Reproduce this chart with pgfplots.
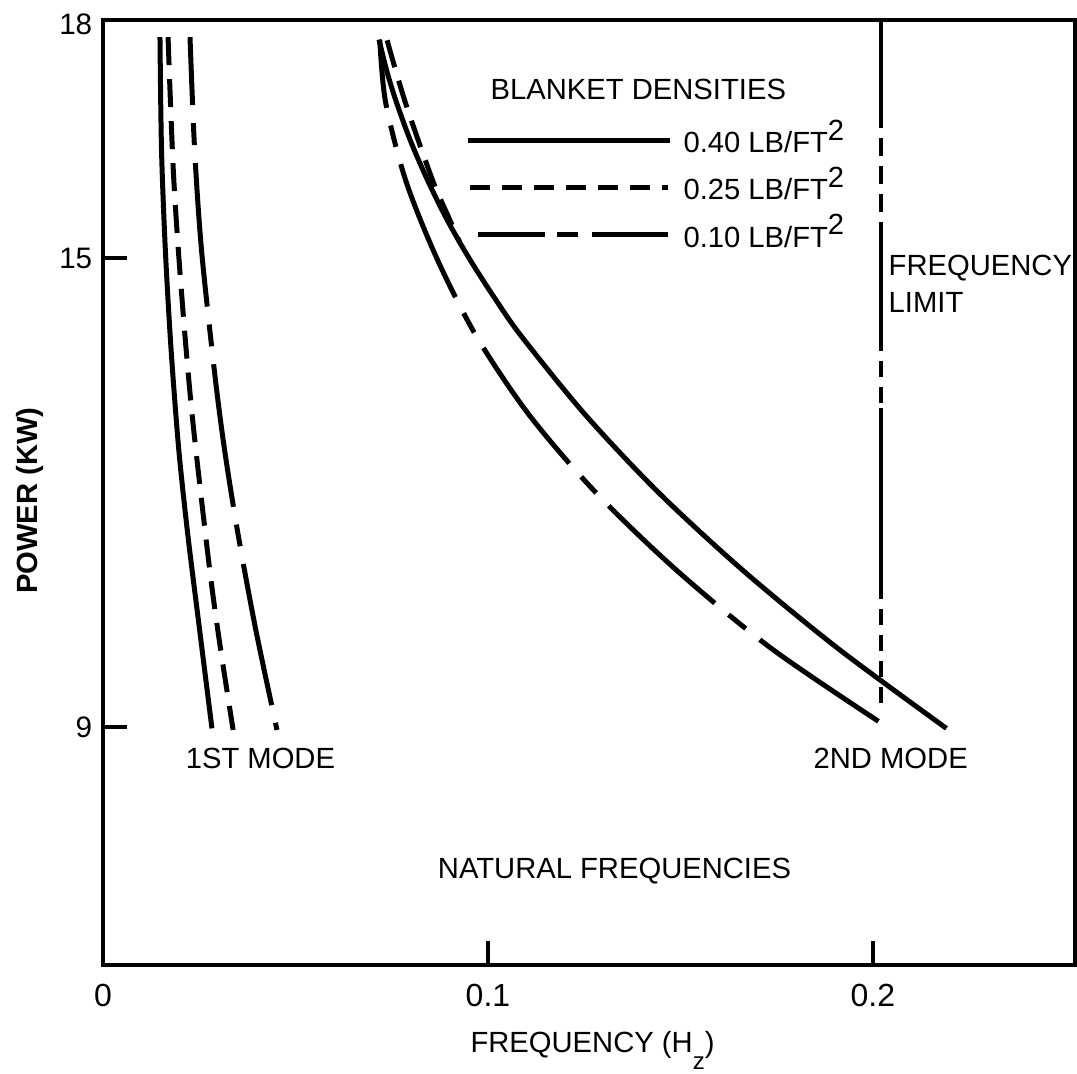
\documentclass[border=0pt]{standalone}
\usepackage{fontspec}
\setmainfont{Liberation Sans}
\usepackage{pgfplots}
\pgfplotsset{compat=1.18}

% dash styles of the three blanket densities
\tikzset{
  d40/.style={line width=1.25pt},
  d25/.style={line width=1.25pt, dash pattern=on 7pt off 3.5pt},
  d10/.style={line width=1.25pt, dash pattern=on 36pt off 4.5pt on 5.5pt off 4.5pt, dash phase=19pt},
}

\begin{document}
\begin{tikzpicture}
\begin{axis}[
  scale only axis,
  width=243pt, height=236.25pt,
  xmin=0, xmax=0.2525,
  ymin=5.95, ymax=18.05,
  font=\fontsize{7.3}{8.8}\selectfont,
  axis line style={line width=1pt},
  tick style={line width=1pt, black},
  tick align=inside,
  tick pos=left,
  major tick length=6pt,
  xtick={0,0.1,0.2}, xticklabels={0,0.1,0.2},
  ytick={9,15}, yticklabels={9,15},
  extra y ticks={18}, extra y tick labels={18},
  extra y tick style={major tick length=0pt},
  xticklabel style={font=\fontsize{8}{9.6}\selectfont, inner sep=0pt, anchor=north, yshift=-4.5pt},
  yticklabel style={font=\fontsize{7.4}{9}\selectfont, inner sep=0pt, anchor=east, xshift=-2.5pt},
  xlabel={FREQUENCY (H\raisebox{-1.1ex}{\fontsize{6}{7}\selectfont z})},
  xlabel style={at={(axis description cs:0.5036,-0.0921)}, anchor=base},
  ylabel={\bfseries POWER (KW)},
  ylabel style={at={(axis description cs:-0.0751,0.4915)}, anchor=center},
]

% 1st mode
\addplot[d40, smooth] coordinates {
  (0.0148,17.83) (0.0152,16.39) (0.0162,15.10) (0.0177,13.82)
  (0.0197,12.54) (0.0221,11.43) (0.0251,10.24) (0.0283,8.98)};
\addplot[d25, smooth] coordinates {
  (0.0169,17.83) (0.0183,16.09) (0.0203,14.62) (0.0231,13.02)
  (0.0275,11.10) (0.0302,10.11) (0.0338,8.96)};
\addplot[d10, smooth] coordinates {
  (0.0226,17.83) (0.0238,16.39) (0.0256,15.10) (0.0290,13.53)
  (0.0316,12.54) (0.0351,11.46) (0.0397,10.24) (0.0452,8.96)};

% 2nd mode
\addplot[d40, smooth] coordinates {
  (0.0717,17.80) (0.0737,17.40) (0.0762,17.00) (0.0799,16.50)
  (0.0843,16.00) (0.0893,15.50) (0.0951,15.00) (0.1016,14.50)
  (0.1087,14.00) (0.1252,13.00) (0.1443,12.00) (0.1663,11.00)
  (0.1910,10.00) (0.2191,8.98)};
\addplot[d25, smooth] coordinates {
  (0.0738,17.79) (0.0785,17.00) (0.0856,16.00) (0.0900,15.50)
  (0.0927,15.20)};
\addplot[d10, smooth] coordinates {
  (0.0719,17.79) (0.0734,17.00) (0.0786,16.00) (0.0867,15.00)
  (0.0970,14.00) (0.1106,13.00) (0.1280,12.00) (0.1491,11.00)
  (0.1737,10.00) (0.2036,9.00)};

% frequency limit
\addplot[line width=1pt] coordinates {(0.2021,18.05) (0.2021,16.90)};
\addplot[line width=1pt, dash pattern=on 4.5pt off 2.5pt] coordinates {(0.2021,16.90) (0.2021,15.46)};
\addplot[line width=1pt] coordinates {(0.2021,15.46) (0.2021,14.02)};
\addplot[line width=1pt, dash pattern=on 4pt off 2.5pt] coordinates {(0.2021,14.02) (0.2021,13.08)};
\addplot[line width=1pt] coordinates {(0.2021,13.08) (0.2021,10.84)};
\addplot[line width=1pt, dash pattern=on 4pt off 2.5pt] coordinates {(0.2021,10.84) (0.2021,9.19)};

% key
\addplot[d40] coordinates {(0.0948,16.51) (0.1473,16.51)};
\addplot[line width=1.25pt, dash pattern=on 5pt off 3pt] coordinates {(0.0953,15.91) (0.1468,15.91)};
\addplot[line width=1.25pt, dash pattern=on 16.75pt off 3pt on 5.25pt off 3.5pt on 40pt off 1pt] coordinates {(0.0974,15.30) (0.1468,15.30)};

\node[anchor=base west, inner sep=0pt] at (axis cs:0.1005,17.03) {BLANKET DENSITIES};
\node[anchor=base west, inner sep=0pt] at (axis cs:0.1506,16.35) {0.40 LB/FT\raisebox{0.8ex}{2}};
\node[anchor=base west, inner sep=0pt] at (axis cs:0.1506,15.75) {0.25 LB/FT\raisebox{0.8ex}{2}};
\node[anchor=base west, inner sep=0pt] at (axis cs:0.1506,15.14) {0.10 LB/FT\raisebox{0.8ex}{2}};
\node[anchor=base west, inner sep=0pt] at (axis cs:0.2039,14.78) {FREQUENCY};
\node[anchor=base west, inner sep=0pt] at (axis cs:0.2039,14.31) {LIMIT};
\node[anchor=base west, inner sep=0pt] at (axis cs:0.0213,8.47) {1ST MODE};
\node[anchor=base west, inner sep=0pt] at (axis cs:0.1844,8.47) {2ND MODE};
\node[anchor=base west, inner sep=0pt] at (axis cs:0.0868,7.06) {NATURAL FREQUENCIES};
\end{axis}
\pgfresetboundingbox
\path (current axis.south west) ++(-25.75pt,-27pt) rectangle ++(269.25pt,268.25pt);
\end{tikzpicture}
\end{document}
